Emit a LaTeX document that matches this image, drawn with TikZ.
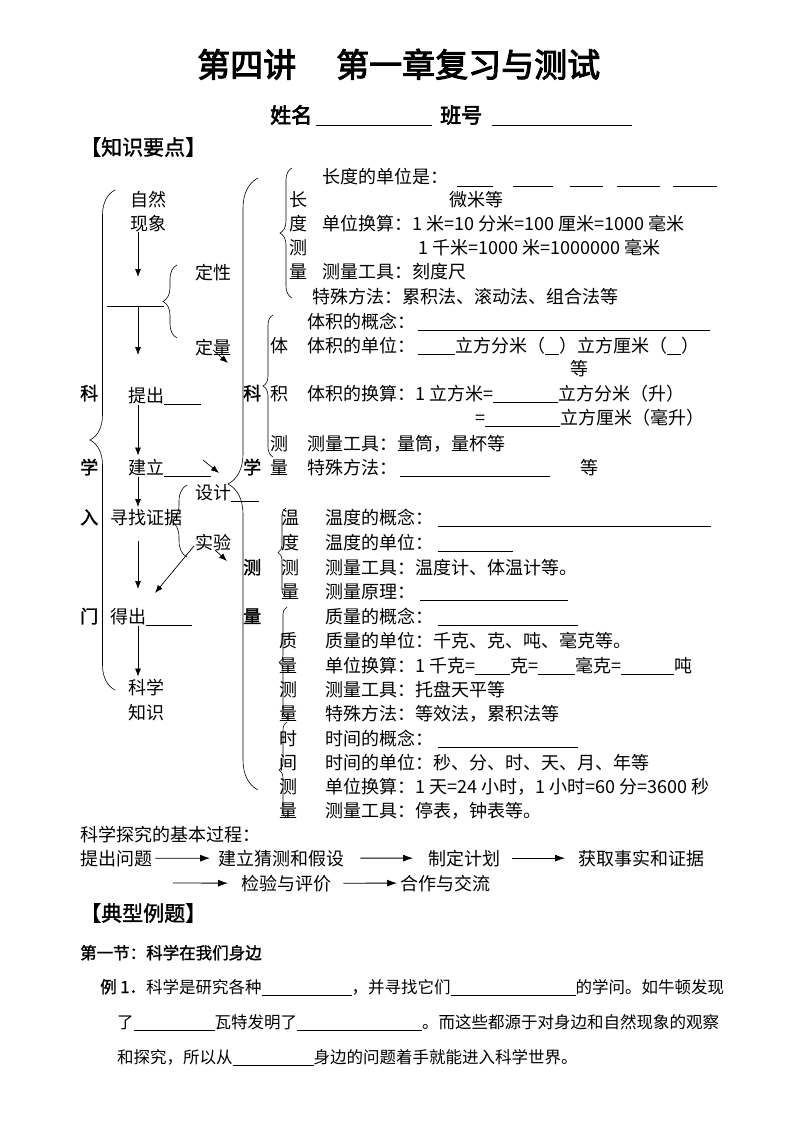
\documentclass[tikz,border=0pt]{standalone}
\usepackage{fontspec}
\setmainfont{Noto Sans CJK SC}
\newfontfamily\ttl[FakeBold=3]{Noto Sans CJK SC}
\newfontfamily\bfc[FakeBold=1.5]{Noto Sans CJK SC}
\usetikzlibrary{arrows.meta,decorations.pathreplacing}
\newcommand\bl[1]{\rule[-2.5pt]{#1}{0.7pt}}
\begin{document}
\begin{tikzpicture}[x=1pt,y=-1pt,
  t/.style={anchor=base west, inner sep=0pt, font=\fontsize{18}{18}\selectfont},
  tb/.style={anchor=base west, inner sep=0pt, font=\fontsize{18}{18}\selectfont\bfc},
  te/.style={anchor=base west, inner sep=0pt, font=\fontsize{16.5}{16.5}\selectfont},
  hd/.style={anchor=base west, inner sep=0pt, font=\fontsize{21}{21}\selectfont\bfc},
  arr/.style={-{Latex[length=8pt,width=6pt]}, line width=0.7pt},
  arrb/.style={-{Latex[length=10pt,width=7pt]}, line width=0.8pt},
  br/.style={decorate, decoration={brace, amplitude=#1}, line width=0.6pt},
  ln/.style={line width=0.7pt}]
\fill[white] (0,0) rectangle (800,1134);
\path[use as bounding box] (0,0) rectangle (800,1134);

% title
\node[anchor=base west, inner sep=0pt, font=\fontsize{33}{33}\selectfont\ttl] (title) at (197,77) {第四讲\hspace{40pt}第一章复习与测试};
\node[anchor=base west, inner sep=0pt, font=\fontsize{21}{21}\selectfont\ttl] (name) at (270,123) {姓名\hspace{4pt}\bl{116pt}\hspace{8pt}班号\hspace{10pt}\bl{140pt}};
\node[hd] (h1) at (80,155) {【知识要点】};

% left column labels
\node[tb] (Lk) at (80,400) {科};
\node[tb] (Lx) at (80,474) {学};
\node[tb] (Lr) at (80,524) {入};
\node[tb] (Lm) at (80,623) {门};
\draw[br=25] (115,690) -- (115,190);

% left flow
\coordinate (ax) at (138,0);
\node[t] (zr) at (130,206) {自然};
\node[t] (xx) at (130,230) {现象};
\coordinate (c1) at (138,277);
\draw[arr] (xx.south -| ax) -- (c1);
\coordinate (hl1) at (107,306);
\coordinate (hl2) at (164,306);
\draw[ln] (hl1) -- (hl2);
\draw[br=14] (177,338) -- (177,265);
\node[t] (dx) at (195,279) {定性};
\node[t] (dl) at (195,354) {定量};
\coordinate (c2) at (138,355);
\draw[arr] (hl1 -| ax) -- (c2);
\node[t] (tc) at (128,402) {提出\bl{37pt}};
\node[t] (jl) at (128,474) {建立\bl{47pt}};
\draw[arr] (tc.south -| ax) -- ([yshift=3pt]jl.north -| ax);
\coordinate (c3) at (138,507);
\draw[arr] (jl.south -| ax) -- (c3);
\node[t] (xz) at (110,524) {寻找证据};
\node[t] (sj) at (195,499) {设计\bl{28pt}};
\node[t] (sy) at (195,549) {实验};
\draw[br=16] (187,557) -- (187,485);
\node[t] (dc) at (110,623) {得出\bl{46pt}};
\coordinate (c4a) at (138,541);
\coordinate (c4b) at (138,589);
\draw[arr] (c4a) -- (c4b);
\node[t] (kx) at (128,694) {科学};
\node[t] (zs) at (128,719) {知识};
\draw[arr] (dc.south -| ax) -- ([yshift=2pt]kx.north -| ax);

% small arrows
\coordinate (s1a) at (213,350); \coordinate (s1b) at (228,363);
\draw[arr] (s1a) -- (s1b);
\coordinate (s2a) at (203,460); \coordinate (s2b) at (219,473);
\draw[arr] (s2a) -- (s2b);
\coordinate (s3a) at (194,546); \coordinate (s3b) at (155,593);
\draw[arr] (s3a) -- (s3b);
\coordinate (s4a) at (215,550); \coordinate (s4b) at (227,561);
\draw[arr] (s4a) -- (s4b);

% science measurement brace
\draw[br=30] (258,790) -- (258,178);
\node[tb] (Rk) at (243,400) {科};
\node[tb] (Rx) at (243,474) {学};
\node[tb] (Rc) at (243,574) {测};
\node[tb] (Rl) at (243,623) {量};

% length
\draw[br=12] (292,298) -- (292,168);
\node[t] (c11) at (289,206) {长};
\node[t] (c12) at (289,230) {度};
\node[t] (c13) at (289,254) {测};
\node[t] (c14) at (289,278) {量};
\node[t] (l1) at (322,184) {长度的单位是：\hspace{9pt}\bl{36pt}\hspace{20pt}\bl{40pt}\hspace{17pt}\bl{33pt}\hspace{14pt}\bl{43pt}\hspace{13pt}\bl{44pt}};
\node[t] (l2) at (449,206) {微米等};
\node[t] (l3) at (322,230) {单位换算：1 米=10 分米=100 厘米=1000 毫米};
\node[t] (l4) at (418,254) {1 千米=1000 米=1000000 毫米};
\node[t] (l5) at (322,278) {测量工具：刻度尺};
\node[t] (l6) at (312,303) {特殊方法：累积法、滚动法、组合法等};

% volume
\draw[br=10] (273,457) -- (273,315);
\node[t] (c21) at (270,352) {体};
\node[t] (c22) at (270,400) {积};
\node[t] (c23) at (270,450) {测};
\node[t] (c24) at (270,474) {量};
\node[t] (v1) at (307,328) {体积的概念：\hspace{3pt}\bl{292pt}};
\node[t] (v2) at (307,352) {体积的单位：\hspace{3pt}\bl{37pt}立方分米（\bl{14pt}）立方厘米（\bl{14pt}）};
\node[t] (v3) at (570,375) {等};
\node[t] (v4) at (307,400) {体积的换算：1 立方米=\bl{65pt}立方分米（升）};
\node[t] (v5) at (475,424) {=\bl{75pt}立方厘米（毫升）};
\node[t] (v6) at (307,450) {测量工具：量筒，量杯等};
\node[t] (v7) at (307,474) {特殊方法：\hspace{3pt}\bl{150pt}\hspace{30pt}等};

% temperature
\draw[br=8] (286,597) -- (286,508);
\node[t] (c31) at (281,524) {温};
\node[t] (c32) at (281,549) {度};
\node[t] (c33) at (281,574) {测};
\node[t] (c34) at (281,598) {量};
\node[t] (w1) at (325,524) {温度的概念：\hspace{5pt}\bl{273pt}};
\node[t] (w2) at (325,549) {温度的单位：\hspace{5pt}\bl{75pt}};
\node[t] (w3) at (325,574) {测量工具：温度计、体温计等。};
\node[t] (w4) at (325,598) {测量原理：\hspace{5pt}\bl{148pt}};

% mass and time
\draw[br=8] (287,718) -- (287,607);
\draw[br=8] (287,818) -- (287,722);
\node[t] (c41) at (279,647) {质};
\node[t] (c42) at (279,672) {量};
\node[t] (c43) at (279,696) {测};
\node[t] (c44) at (279,720) {量};
\node[t] (c51) at (279,745) {时};
\node[t] (c52) at (279,769) {间};
\node[t] (c53) at (279,793) {测};
\node[t] (c54) at (279,817) {量};
\node[t] (m1) at (325,623) {质量的概念：\hspace{5pt}\bl{140pt}};
\node[t] (m2) at (325,647) {质量的单位：千克、克、吨、毫克等。};
\node[t] (m3) at (325,672) {单位换算：1 千克=\bl{35pt}克=\bl{37pt}毫克=\bl{53pt}吨};
\node[t] (m4) at (325,696) {测量工具：托盘天平等};
\node[t] (m5) at (325,720) {特殊方法：等效法，累积法等};
\node[t] (m6) at (325,745) {时间的概念：\hspace{5pt}\bl{140pt}};
\node[t] (m7) at (325,769) {时间的单位：秒、分、时、天、月、年等};
\node[t] (m8) at (325,793) {单位换算：1 天=24 小时，1 小时=60 分=3600 秒};
\node[t] (m9) at (325,817) {测量工具：停表，钟表等。};

% process
\node[t] (pg) at (80,841) {科学探究的基本过程：};
\node[t] (p1) at (80,865) {提出问题};
\node[t] (p2) at (218,865) {建立猜测和假设};
\node[t] (p3) at (428,865) {制定计划};
\node[t] (p4) at (578,865) {获取事实和证据};
\draw[arrb] ([xshift=3pt]p1.east) -- ([xshift=-8pt]p2.west);
\draw[arrb] ([xshift=16pt]p2.east) -- ([xshift=-15pt]p3.west);
\draw[arrb] ([xshift=12pt]p3.east) -- ([xshift=-13pt]p4.west);
\node[t] (p5) at (241,890) {检验与评价};
\node[t] (p6) at (400,890) {合作与交流};
\coordinate (r2s) at (173,883);
\draw[arrb] (r2s) -- ([xshift=-13pt]p5.west);
\draw[arrb] ([xshift=12pt]p5.east) -- ([xshift=-3pt]p6.west);

% examples
\node[hd] (h2) at (80,921) {【典型例题】};
\node[anchor=base west, inner sep=0pt, font=\fontsize{16.5}{16.5}\selectfont\bfc] (sec) at (80,959) {第一节：科学在我们身边};
\node[te] (e1) at (100,993) {{\bfc 例 1．}科学是研究各种\bl{90pt}，并寻找它们\bl{125pt}的学问。如牛顿发现};
\node[te] (e2) at (117,1028) {了\bl{81pt}瓦特发明了\bl{125pt}。而这些都源于对身边和自然现象的观察};
\node[te] (e3) at (117,1063) {和探究，所以从\bl{81pt}身边的问题着手就能进入科学世界。};
\end{tikzpicture}
\end{document}
